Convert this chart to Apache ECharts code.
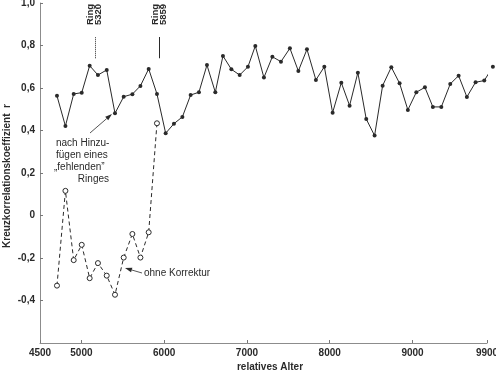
<!DOCTYPE html>
<html>

<head>
    <meta charset="utf-8" />
    <title>Kreuzkorrelation</title>
    <script src="https://cdn.jsdelivr.net/npm/echarts@6.0.0/dist/echarts.min.js"></script>
</head>

<body style="margin:0;background:#fff;">
    <div id="main" style="width: 496px;height:377px;"></div>
    <script type="text/javascript">
        // relatives Alter der Messpunkte
        const ages = [4705, 4807, 4907, 5004, 5100, 5200, 5306, 5406, 5511, 5616, 5713, 5813, 5913,
            6018, 6118, 6220, 6320, 6420, 6517, 6618, 6710, 6812, 6912, 7012, 7101, 7205, 7307,
            7411, 7519, 7621, 7725, 7833, 7935, 8035, 8140, 8240, 8340, 8441, 8542, 8639, 8744,
            8844, 8944, 9046, 9150, 9246, 9348, 9456, 9557, 9657, 9762, 9867, 9971];
        // nach Hinzufügen eines "fehlenden" Ringes
        const corrected = [0.563, 0.421, 0.572, 0.578, 0.705, 0.661, 0.685, 0.481, 0.559, 0.571,
            0.610, 0.690, 0.572, 0.387, 0.432, 0.464, 0.567, 0.580, 0.708, 0.580, 0.751, 0.688,
            0.661, 0.700, 0.798, 0.649, 0.747, 0.724, 0.787, 0.680, 0.782, 0.638, 0.700, 0.484,
            0.625, 0.517, 0.672, 0.454, 0.376, 0.611, 0.698, 0.622, 0.497, 0.580, 0.603, 0.511,
            0.511, 0.619, 0.658, 0.558, 0.627, 0.635, 0.700];
        // ohne Korrektur
        const uncorrected = [-0.330, 0.116, -0.210, -0.138, -0.295, -0.224, -0.283, -0.373,
            -0.198, -0.087, -0.198, -0.079, 0.434];
        const xTicks = [4500, 5000, 6000, 7000, 8000, 9000, 9900];
        const yTicks = [-0.4, -0.2, 0, 0.2, 0.4, 0.6, 0.8, 1.0];
        const ringAges = [5173, 5946];
        const ringNames = ['Ring\n5320', 'Ring\n5859'];

        var myChart = echarts.init(document.getElementById('main'));

        var ink = '#2a2a2a';
        var font = 'Liberation Sans';

        function arrow(x0, y0, x1, y1) {
            var dx = x1 - x0, dy = y1 - y0;
            var len = Math.sqrt(dx * dx + dy * dy);
            var ux = dx / len, uy = dy / len;
            var bx = x1 - 7 * ux, by = y1 - 7 * uy;
            return [
                { type: 'line', shape: { x1: x0, y1: y0, x2: bx, y2: by }, style: { stroke: '#555', lineWidth: 1 } },
                {
                    type: 'polygon',
                    shape: { points: [[x1, y1], [bx + 2.3 * uy, by - 2.3 * ux], [bx - 2.3 * uy, by + 2.3 * ux]] },
                    style: { fill: ink }
                }
            ];
        }

        function label(text, x, y, align) {
            align = align || 'left';
            return {
                type: 'text',
                x: x, y: y,
                style: {
                    text: text, fill: ink,
                    font: '10px "' + font + '"',
                    textAlign: align, textVerticalAlign: 'middle',
                    align: align, verticalAlign: 'middle'
                }
            };
        }

        var graphics = [];
        // Ring-Beschriftungen
        ringNames.forEach(function (t, i) {
            var x = i === 0 ? 86 : 151;
            graphics.push({
                type: 'text', x: x, y: 25, rotation: Math.PI / 2,
                style: {
                    text: t, fill: ink, font: 'bold 9.5px "' + font + '"', lineHeight: 8.5,
                    textAlign: 'left', textVerticalAlign: 'top', align: 'left', verticalAlign: 'top'
                }
            });
        });
        graphics.push(label('nach Hinzu-', 56, 143));
        graphics.push(label('fügen eines', 56, 155));
        graphics.push(label('\u201Efehlenden\u201D', 54, 167));
        graphics.push(label('Ringes', 109, 179, 'right'));
        graphics.push(label('ohne Korrektur', 144, 273));
        graphics = graphics.concat(arrow(90, 133, 112, 114));
        graphics = graphics.concat(arrow(142, 273, 125, 268));
        // Achsentitel
        graphics.push({
            type: 'text', x: 7, y: 176, rotation: Math.PI / 2,
            style: {
                text: 'Kreuzkorrelationskoeffizient  r', fill: ink, font: 'bold 10px "' + font + '"',
                textAlign: 'center', textVerticalAlign: 'middle', align: 'center', verticalAlign: 'middle'
            }
        });
        graphics.push({
            type: 'text', x: 270, y: 367,
            style: {
                text: 'relatives Alter', fill: ink, font: 'bold 10px "' + font + '"',
                textAlign: 'center', textVerticalAlign: 'middle', align: 'center', verticalAlign: 'middle'
            }
        });

        var option = {
            animation: false,
            backgroundColor: '#fff',
            grid: { left: 40, right: 9, top: 3, bottom: 34, outerBoundsMode: 'none' },
            xAxis: {
                type: 'value',
                min: 4500, max: 9900,
                axisLine: { onZero: false, lineStyle: { color: '#8c8c8c', width: 1 } },
                axisTick: { inside: true, length: 3, customValues: xTicks, lineStyle: { color: '#777' } },
                axisLabel: {
                    customValues: xTicks, margin: 5, color: ink,
                    fontFamily: font, fontSize: 10, fontWeight: 'bold',
                    formatter: function (v) { return String(v); }
                },
                splitLine: { show: false }
            },
            yAxis: {
                type: 'value',
                min: -0.6, max: 1.0, interval: 0.2,
                axisLine: { show: true, onZero: false, lineStyle: { color: '#8c8c8c', width: 1 } },
                axisTick: { show: true, inside: true, length: 3, customValues: yTicks, lineStyle: { color: '#777' } },
                axisLabel: {
                    customValues: yTicks, margin: 5, color: ink,
                    fontFamily: font, fontSize: 10, fontWeight: 'bold',
                    formatter: function (v) {
                        if (Math.abs(v) < 1e-9) return '0';
                        return v.toFixed(1).replace('.', ',');
                    }
                },
                splitLine: { show: false }
            },
            series: [
                {
                    name: 'korrigiert',
                    type: 'line',
                    clip: false,
                    data: ages.map(function (a, i) { return [a, corrected[i]]; }),
                    symbol: 'circle',
                    symbolSize: 4,
                    itemStyle: { color: ink },
                    lineStyle: { color: ink, width: 1 },
                    markLine: {
                        silent: true,
                        symbol: 'none',
                        label: { show: false },
                        data: ringAges.map(function (r, i) {
                            return [
                                { coord: [r, 0.74], lineStyle: { color: ink, width: 1, type: i === 0 ? [1, 1] : 'solid' } },
                                { coord: [r, 0.84] }
                            ];
                        })
                    }
                },
                {
                    name: 'ohne Korrektur',
                    type: 'line',
                    clip: false,
                    showSymbol: true,
                    data: uncorrected.map(function (v, i) { return [ages[i], v]; }),
                    symbol: 'circle',
                    symbolSize: 5,
                    itemStyle: { color: '#fff', borderColor: ink, borderWidth: 1 },
                    lineStyle: { color: ink, width: 1, type: [4, 3] }
                }
            ],
            graphic: { elements: graphics }
        };

        myChart.setOption(option);
    </script>
</body>

</html>
